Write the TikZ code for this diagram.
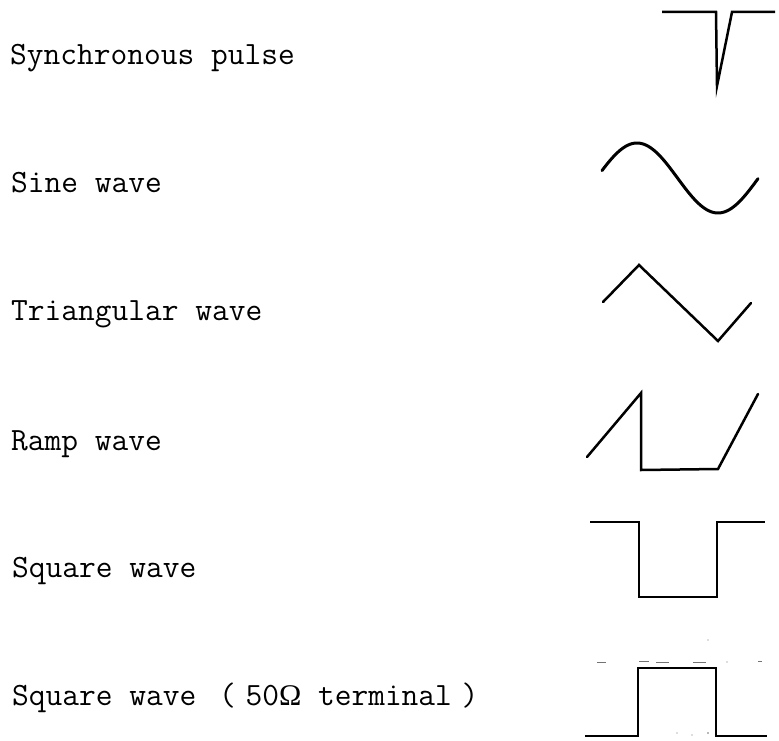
\documentclass[tikz,border=0pt]{standalone}
\usepackage{fontspec}
\newfontfamily\omfont{Liberation Serif}
\begin{document}
\begin{tikzpicture}[x=1pt,y=-1pt,
  lbl/.style={anchor=base west,inner sep=0pt,font=\ttfamily\fontsize{32.5}{32.5}\selectfont},
  wave/.style={line width=2.5pt,line join=miter,line cap=butt,black},
  speck/.style={line width=1pt,black!55}]
\path[use as bounding box,fill=white] (0,0) rectangle (779,741);
% labels
\node[lbl] (t1) at (10,65)  {Synchronous pulse};
\node[lbl] (t2) at (11,193) {Sine wave};
\node[lbl] (t3) at (11,320) {Triangular wave};
\node[lbl] (t4) at (11,450) {Ramp wave};
\node[lbl] (t5) at (12,577) {Square wave};
\node[lbl] (t6) at (12,705) {Square wave\hspace{0.7em}(\hspace{0.3em}50{\omfont\fontsize{30}{30}\selectfont Ω} terminal\hspace{0.3em})};
% synchronous pulse
\draw[wave] (662,12) -- (716,12) -- (717,86) -- (732,12) -- (775,12);
% sine wave
\draw[wave,line width=3pt,line cap=round] plot[domain=602:758,samples=80,smooth] (\x,{178-35*cos((\x-637)/162*360)});
% triangular wave
\draw[wave,line cap=round] (603,302) -- (639,265) -- (718,341) -- (751,303);
% ramp wave
\draw[wave,line cap=round] (587,457) -- (641,393) -- (641,470) -- (718,469) -- (758,394);
% square wave
\draw[wave] (590,522) -- (639,522) -- (639,597) -- (717,597) -- (717,522) -- (765,522);
% square wave (50 ohm terminal)
\draw[wave] (585,736) -- (638,736) -- (638,668) -- (716,668) -- (716,736) -- (767,736);
% faint scan traces
\draw[speck] (597,662) -- (606,662) (639,661) -- (649,661) (656,662) -- (669,662)
  (693,662) -- (706,662) (758,661) -- (762,661);
\fill[black!55] (727,662) circle (0.7) (708,640) circle (0.7)
  (677,733) circle (0.6) (692,735) circle (0.6) (708,733) circle (0.8);
\end{tikzpicture}
\end{document}
